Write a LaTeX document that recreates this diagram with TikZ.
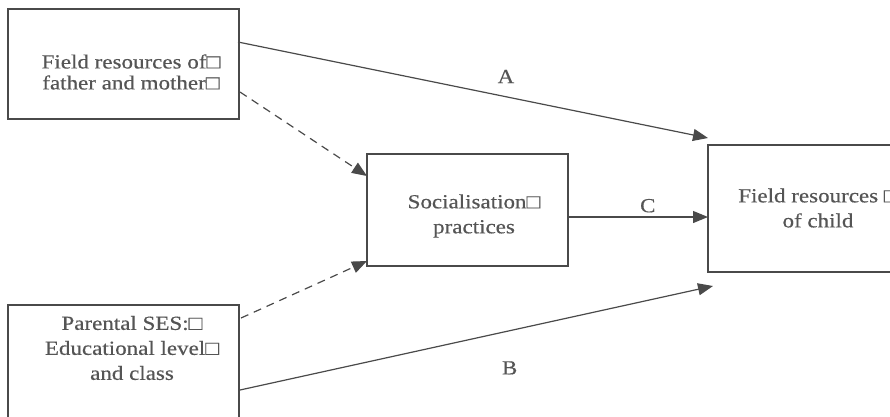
\documentclass[tikz,border=0pt]{standalone}
\usepackage{fontspec}
\setmainfont{Liberation Serif}
\newfontfamily\widefont[FakeStretch=1.15,FakeBold=0.4]{Liberation Serif}
\usetikzlibrary{arrows.meta}
\definecolor{ink}{HTML}{4A4A4A}
\definecolor{txt}{HTML}{555555}
\begin{document}
\begin{tikzpicture}[x=1pt,y=-1pt,
  boxshape/.style={draw=ink,line width=1.3pt},
  lbl/.style={text=txt,font=\widefont\fontsize{20}{25}\selectfont,align=center,inner sep=0pt},
  conn/.style={draw=ink,line width=1.2pt,-{Triangle[length=15pt,width=12pt]}},
  dconn/.style={conn,dash pattern=on 8pt off 6pt}]
\useasboundingbox (0,0) rectangle (890,416);
\clip (0,0) rectangle (890,416);
\fill[white] (0,0) rectangle (890,416);
% boxes
\draw[boxshape] (8,9) rectangle (239,119);
\draw[boxshape] (367,154) rectangle (568,266);
\draw[boxshape] (8,305) rectangle (239,440);
\draw[boxshape] (708,145) rectangle (960,272);
% texts
\node[lbl] (t1) at (131,72) {Field resources of□\\[-4pt]father and mother□};
\node[lbl] (t2) at (474,216) {Socialisation□\\practices};
\node[lbl] (t3) at (132,348) {Parental SES:□\\Educational level□\\and class\hspace{14pt}};
\node[lbl] (t4) at (818,208) {Field resources □\\of child};
% connector endpoints
\coordinate (a0) at (238,42);
\coordinate (a1) at (708,138);
\coordinate (d0) at (240,92);
\coordinate (d1) at (367,176);
\coordinate (c0) at (568,217);
\coordinate (c1) at (708,217);
\coordinate (e0) at (241,318);
\coordinate (e1) at (367,261);
\coordinate (f0) at (240,390);
\coordinate (f1) at (713,286);
\draw[conn] (a0) -- (a1) node[lbl,pos=0.57,above=13pt] (la) {A};
\draw[dconn] (d0) -- (d1);
\draw[conn] (c0) -- (c1) node[lbl,pos=0.57,above=4pt] (lc) {C};
\draw[dconn] (e0) -- (e1);
\draw[conn] (f0) -- (f1) node[lbl,pos=0.57,below=30pt] (lb) {B};
\end{tikzpicture}
\end{document}
